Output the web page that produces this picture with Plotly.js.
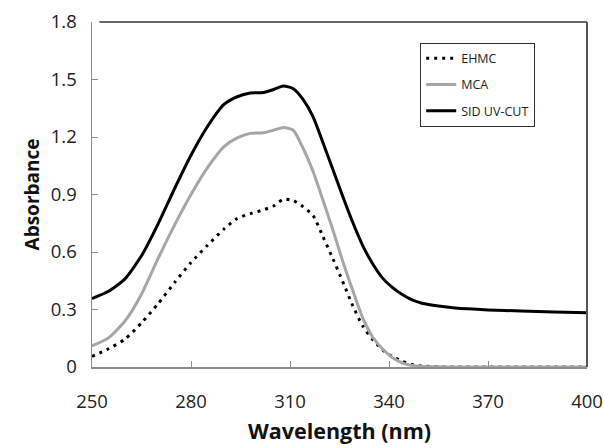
<!DOCTYPE html>
<html>
<head>
<meta charset="utf-8">
<script src="https://cdn.plot.ly/plotly-3.0.1.min.js"></script>
<style>html,body{margin:0;padding:0;background:#fff;}#chart{width:604px;height:448px;}</style>
</head>
<body>
<div id="chart"></div>
<script>
const wavelength = [250,255,260,265,270,275,280,285,290,294,298,302,305,308,311,314,317,320,323,326,329,332,335,338,341,344,347,350,355,360,370,380,390,400];
const ehmc = [0.055,0.095,0.145,0.23,0.33,0.44,0.545,0.635,0.72,0.775,0.80,0.82,0.84,0.875,0.868,0.836,0.79,0.68,0.565,0.445,0.32,0.215,0.145,0.09,0.055,0.03,0.013,0.005,0.001,0,0,0,0,0];
const mca = [0.11,0.152,0.24,0.38,0.565,0.74,0.90,1.04,1.15,1.195,1.219,1.222,1.235,1.25,1.235,1.14,1.02,0.87,0.715,0.55,0.40,0.258,0.158,0.095,0.05,0.022,0.008,0.003,0.001,0,0,0,0,0];
const sid = [0.357,0.395,0.46,0.58,0.745,0.93,1.105,1.255,1.37,1.41,1.43,1.432,1.448,1.466,1.452,1.395,1.305,1.17,1.03,0.89,0.755,0.635,0.54,0.465,0.415,0.378,0.35,0.333,0.318,0.308,0.298,0.292,0.287,0.283];
const seriesNames = ["EHMC","MCA","SID UV-CUT"];
const xTicks = [250,280,310,340,370,400];
const yTicks = [0,0.3,0.6,0.9,1.2,1.5,1.8];

const font = "'Open Sans', Lato, sans-serif";
const traces = [
  {x: wavelength, y: ehmc, name: seriesNames[0], legendgroup: "a", type: "scatter", mode: "lines",
   line: {color: "#000000", width: 3, dash: "3px,5px", shape: "spline", smoothing: 0.6}},
  {x: wavelength, y: mca, name: seriesNames[1], legendgroup: "b", type: "scatter", mode: "lines",
   line: {color: "#a6a6a6", width: 3, shape: "spline", smoothing: 0.6}},
  {x: wavelength, y: sid, name: seriesNames[2], legendgroup: "c", type: "scatter", mode: "lines",
   line: {color: "#000000", width: 3, shape: "spline", smoothing: 0.6}}
];
const layout = {
  width: 604, height: 448,
  margin: {l: 92, r: 17, t: 22, b: 81},
  paper_bgcolor: "#ffffff", plot_bgcolor: "#ffffff",
  font: {family: font, color: "#222"},
  showlegend: true,
  legend: {x: 0.663, y: 0.94, xanchor: "left", yanchor: "top", traceorder: "grouped",
    tracegroupgap: 7, bordercolor: "#333", borderwidth: 1, bgcolor: "#fff",
    font: {family: font, size: 12.5, color: "#222"}},
  xaxis: {range: [250, 400], tickvals: xTicks, ticktext: xTicks.map(String),
    ticks: "inside", ticklen: 6, tickcolor: "#8c8c8c", tickwidth: 1,
    showline: true, linecolor: "#8c8c8c", linewidth: 1.5, showgrid: false, zeroline: false,
    tickfont: {family: font, size: 18.5, color: "#222"}, ticklabelstandoff: 17,
    title: {text: "<b>Wavelength (nm)</b>", font: {family: font, size: 21.5, color: "#111"}, standoff: 12}},
  yaxis: {range: [0, 1.8], tickvals: yTicks, ticktext: yTicks.map(v => String(v)),
    ticks: "inside", ticklen: 6, tickcolor: "#8c8c8c", tickwidth: 1,
    showline: true, linecolor: "#8c8c8c", linewidth: 1.5, showgrid: false, zeroline: false,
    tickfont: {family: font, size: 18.5, color: "#222"}, ticklabelstandoff: 10,
    title: {text: "<b>Absorbance</b>", font: {family: font, size: 19, color: "#111"}, standoff: 6}},
  shapes: [
    {type: "line", xref: "paper", yref: "paper", x0: 0.015, x1: 1, y0: 1, y1: 1, line: {color: "#333", width: 1.5}},
    {type: "line", xref: "paper", yref: "paper", x0: 1, x1: 1, y0: 0, y1: 1, line: {color: "#555", width: 2}}
  ]
};
Plotly.newPlot("chart", traces, layout, {displayModeBar: false, staticPlot: true});
</script>
</body>
</html>
